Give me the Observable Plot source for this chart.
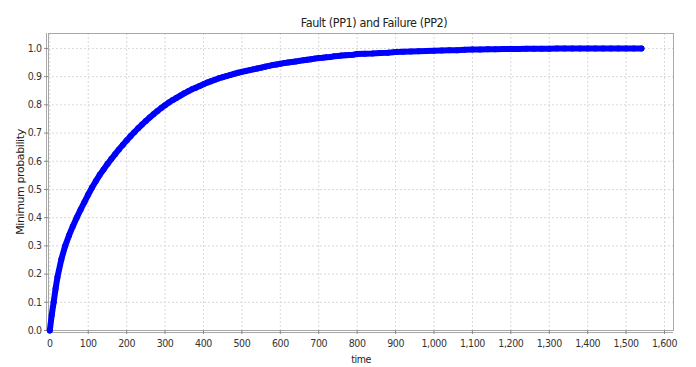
<!DOCTYPE html>
<html><head><meta charset="utf-8">
<script src="https://cdn.jsdelivr.net/npm/d3@7"></script>
<script src="https://cdn.jsdelivr.net/npm/@observablehq/plot@0.6"></script>
<style>body{margin:0;background:#fff}</style>
</head><body><div id="chart"></div>
<script>
const title = "Fault (PP1) and Failure (PP2)";
const xLabel = "time";
const yLabel = "Minimum probability";
const xTicks = [0,100,200,300,400,500,600,700,800,900,1000,1100,1200,1300,1400,1500,1600];
const yTicks = [0,0.1,0.2,0.3,0.4,0.5,0.6,0.7,0.8,0.9,1.0];
const times = [0,5,10,15,20,30,40,50,60,70,80,90,100,110,120,130,140,150,160,170,180,190,
  200,210,220,230,240,250,260,270,280,290,300,310,320,330,340,350,360,370,380,390,
  400,410,420,430,440,450,460,470,480,490,500,510,520,530,540,550,560,570,580,590,
  600,610,620,630,640,650,660,670,680,690,700,710,720,730,740,750,760,770,780,790,800,
  820,840,860,880,900,920,940,960,980,1000,1020,1040,1060,1080,1100,1120,1140,1160,1180,
  1200,1220,1240,1260,1280,1300,1320,1340,1360,1380,1400,1420,1440,1460,1480,1500,1520,1540];
const probs = [0.000,0.055,0.100,0.148,0.190,0.252,0.300,0.337,0.370,0.400,0.428,0.455,
  0.482,0.507,0.530,0.552,0.571,0.590,0.608,0.625,0.642,0.658,
  0.674,0.689,0.703,0.717,0.730,0.743,0.755,0.767,0.778,0.789,
  0.799,0.808,0.817,0.825,0.833,0.841,0.848,0.855,0.861,0.867,
  0.873,0.879,0.884,0.889,0.894,0.898,0.902,0.906,0.910,0.914,
  0.917,0.920,0.923,0.926,0.929,0.932,0.935,0.938,0.941,0.943,
  0.946,0.948,0.950,0.952,0.954,0.956,0.958,0.960,0.962,0.964,
  0.966,0.967,0.969,0.970,0.972,0.973,0.975,0.976,0.977,0.978,0.980,
  0.981,0.982,0.984,0.985,0.987,0.988,0.989,0.990,0.991,0.992,
  0.993,0.994,0.994,0.995,0.996,0.996,0.997,0.997,0.998,
  0.998,0.998,0.999,0.999,0.999,0.999,1.000,1.000,1.000,1.000,1.000,1.000,1.000,1.000,1.000,1.000,1.000,1.000];

const data = times.map((t, i) => ({t, p: probs[i]}));
const tickFont = "'DejaVu Sans Condensed', 'Liberation Sans Narrow', 'Liberation Sans', sans-serif";
const blue = "#0000ff";

const chart = Plot.plot({
  width: 696,
  height: 367,
  marginLeft: 48,
  marginRight: 23,
  marginTop: 33,
  marginBottom: 37,
  style: {fontFamily: tickFont, fontSize: "10.5px", color: "#333", background: "#fff", letterSpacing: "-0.4px"},
  x: {domain: [-3.4, 1623.4]},
  y: {domain: [0, 1.053]},
  marks: [
    Plot.gridX(xTicks, {stroke: "#d8d8d8", strokeOpacity: 1, strokeDasharray: "2,2"}),
    Plot.gridY(yTicks, {stroke: "#d8d8d8", strokeOpacity: 1, strokeDasharray: "2,2"}),
    Plot.frame({stroke: "#a8a8a8"}),
    Plot.ruleY([0], {stroke: "#a8a8a8", dy: 2}),
    Plot.ruleX([-3.4], {stroke: "#a8a8a8", dx: -2}),
    Plot.axisX(xTicks, {tickFormat: d3.format(","), tickSize: 4, tickPadding: 5, stroke: "#888", fill: "#333", label: null, fontFamily: tickFont, fontSize: 10.5}),
    Plot.axisY(yTicks, {tickFormat: d3.format(".1f"), tickSize: 4, tickPadding: 3, stroke: "#888", fill: "#333", label: null, fontFamily: tickFont, fontSize: 10.5}),
    Plot.line(data, {x: "t", y: "p", stroke: blue, strokeWidth: 6}),
    Plot.dot(data, {x: "t", y: "p", r: 3, fill: blue}),
    Plot.text([title], {text: d => d, frameAnchor: "top", dx: 13, dy: -15, fontSize: 12.5, fill: "#222", fontFamily: tickFont}),
    Plot.text([yLabel], {text: d => d, frameAnchor: "left", textAnchor: "middle", dx: -28, rotate: -90, fontSize: 11, fill: "#222", fontFamily: "'DejaVu Sans', sans-serif", letterSpacing: "0px"}),
    Plot.text([xLabel], {text: d => d, frameAnchor: "bottom", dy: 32, fontSize: 10.5, fill: "#222", fontFamily: tickFont})
  ]
});
document.getElementById("chart").appendChild(chart);
</script>
</body></html>
